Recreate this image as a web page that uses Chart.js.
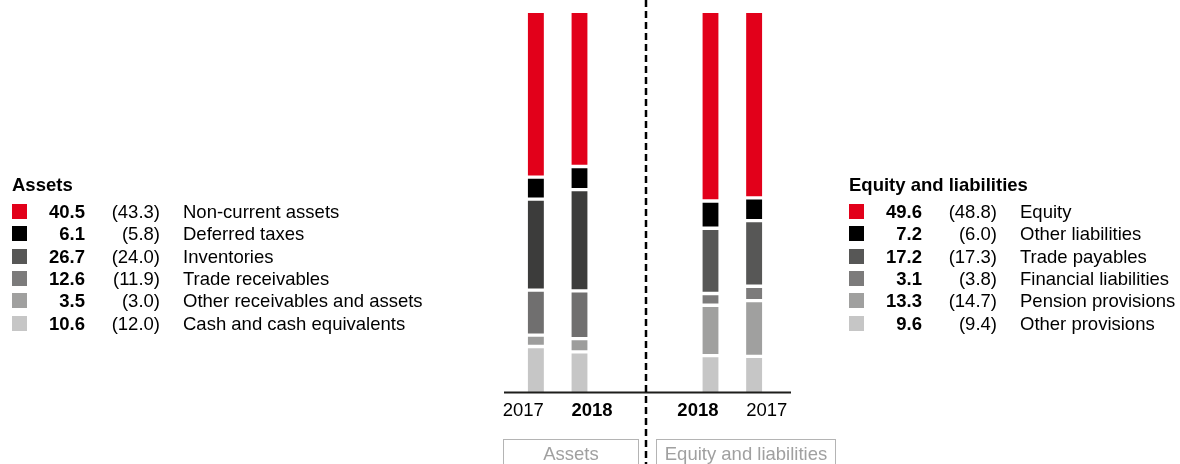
<!DOCTYPE html>
<html>
<head>
<meta charset="utf-8">
<script src="https://cdn.jsdelivr.net/npm/chart.js@4.4.1/dist/chart.umd.min.js"></script>
<style>
  html, body { margin: 0; padding: 0; background: #fff; }
  body { width: 1180px; height: 464px; position: relative; overflow: hidden;
         font-family: "Liberation Sans", Arial, Helvetica, sans-serif; color: #000; }
  #myChart { position: absolute; left: 0; top: 0; }
  .legend { position: absolute; top: 0; width: 340px; height: 464px; font-size: 18.5px; }
  .legend div { position: absolute; white-space: nowrap; line-height: 22px; height: 22px; }
  .legend .title { font-weight: bold; }
  .legend .sw { width: 15px; height: 15px; }
  .legend .val { width: 85px; text-align: right; font-weight: bold; left: 0; }
  .legend .prev { width: 70px; text-align: right; left: 90px; }
  .legend .name { left: 183px; }
  .box { position: absolute; top: 439px; height: 40px; border: 1px solid #b4b4b4; border-bottom: none;
         color: #a0a0a0; font-size: 18.5px; text-align: center; line-height: 28px; box-sizing: border-box; }
</style>
</head>
<body>
<canvas id="myChart" width="1180" height="464"></canvas>
<div class="legend" id="legAssets" style="left:0"></div>
<div class="legend" id="legLiab" style="left:837px"></div>
<div class="box" style="left:503px; width:136px">Assets</div>
<div class="box" style="left:656px; width:180px">Equity and liabilities</div>

<script>
// balance sheet structure in %, top of the bar first
const assetItems = ["Non-current assets", "Deferred taxes", "Inventories", "Trade receivables",
  "Other receivables and assets", "Cash and cash equivalents"];
const assets2018 = [40.5, 6.1, 26.7, 12.6, 3.5, 10.6];
const assets2017 = [43.3, 5.8, 24.0, 11.9, 3.0, 12.0];

const liabItems = ["Equity", "Other liabilities", "Trade payables", "Financial liabilities",
  "Pension provisions", "Other provisions"];
const liab2018 = [49.6, 7.2, 17.2, 3.1, 13.3, 9.6];
const liab2017 = [48.8, 6.0, 17.3, 3.8, 14.7, 9.4];

// columns: assets 2017, assets 2018, two empty slots, liabilities 2018, liabilities 2017
const xLabels = ["2017", "2018", "", "", "2018", "2017"];
const boldYear = "2018";

const assetBarColors = ["#e2001a", "#000000", "#3c3c3b", "#706f6f", "#9d9d9c", "#c6c6c6"];
const liabBarColors = ["#e2001a", "#000000", "#575756", "#7c7b7b", "#a0a09f", "#c6c6c6"];
const legendColors = ["#e2001a", "#000000", "#575756", "#7c7b7b", "#a0a09f", "#c6c6c6"];

// axis line, divider and year labels
const framePlugin = {
  id: "frame",
  afterDraw(chart) {
    const ctx = chart.ctx;
    const area = chart.chartArea;
    ctx.save();

    ctx.strokeStyle = "#1d1d1b";
    ctx.lineWidth = 2;
    ctx.beginPath();
    ctx.moveTo(area.left - 10, area.bottom + 0.5);
    ctx.lineTo(area.right + 15, area.bottom + 0.5);
    ctx.stroke();

    const xs = chart.scales.x;
    const midX = (xs.getPixelForTick(2) + xs.getPixelForTick(3)) / 2 + 1;
    ctx.lineWidth = 2.5;
    ctx.strokeStyle = "#000";
    ctx.setLineDash([7, 4]);
    ctx.beginPath();
    ctx.moveTo(midX, 0);
    ctx.lineTo(midX, chart.height);
    ctx.stroke();
    ctx.setLineDash([]);

    const bars = chart.getDatasetMeta(0).data;
    ctx.fillStyle = "#000";
    ctx.textBaseline = "middle";
    let pairPos = 0;
    xLabels.forEach((lab, i) => {
      if (!lab) return;
      const bar = bars[i];
      const half = bar.width / 2;
      ctx.font = (lab === boldYear ? "bold " : "") + '18.5px "Liberation Sans", Arial, sans-serif';
      if (pairPos % 2 === 0) {
        ctx.textAlign = "right";
        ctx.fillText(lab, bar.x + half, 411);
      } else {
        ctx.textAlign = "left";
        ctx.fillText(lab, bar.x - half, 411);
      }
      pairPos++;
    });
    ctx.restore();
  }
};

buildLegend("legAssets", "Assets", assetItems, assets2018, assets2017);
buildLegend("legLiab", "Equity and liabilities", liabItems, liab2018, liab2017);
initChart();

function buildLegend(id, title, items, cur, prev) {
  const el = document.getElementById(id);
  let html = '<div class="title" style="left:12px; top:174px">' + title + '</div>';
  items.forEach((name, i) => {
    const top = 201 + i * 22.3;
    html += '<div class="sw" style="left:12px; top:' + (top + 3) + 'px; height:15px; background:' + legendColors[i] + '"></div>';
    html += '<div class="val" style="top:' + top + 'px">' + cur[i].toFixed(1) + '</div>';
    html += '<div class="prev" style="top:' + top + 'px">(' + prev[i].toFixed(1) + ')</div>';
    html += '<div class="name" style="top:' + top + 'px">' + name + '</div>';
  });
  el.innerHTML = html;
}

function initChart() {
  const ctx = document.getElementById("myChart").getContext("2d");
  const datasets = [];
  // bottom of the stack first
  for (let i = assetItems.length - 1; i >= 0; i--) {
    const isTop = i === 0;
    const isBottom = i === assetItems.length - 1;
    datasets.push({
      label: assetItems[i] + " / " + liabItems[i],
      data: [assets2017[i], assets2018[i], null, null, liab2018[i], liab2017[i]],
      backgroundColor: [assetBarColors[i], assetBarColors[i], null, null, liabBarColors[i], liabBarColors[i]],
      borderColor: "#ffffff",
      borderWidth: { top: isTop ? 0 : 2, bottom: isBottom ? 0 : 2, left: 0, right: 0 },
      borderSkipped: false,
      barThickness: 16,
    });
  }

  window.chart = new Chart(ctx, {
    type: "bar",
    data: { labels: xLabels, datasets: datasets },
    options: {
      responsive: false,
      animation: false,
      devicePixelRatio: 1,
      layout: { padding: { left: 514, right: 404, top: 13, bottom: 72 } },
      plugins: { legend: { display: false }, tooltip: { enabled: false } },
      scales: {
        x: { stacked: true, display: false },
        y: { stacked: true, display: false, min: 0, max: 100 },
      },
    },
    plugins: [framePlugin],
  });
}
</script>
</body>
</html>
